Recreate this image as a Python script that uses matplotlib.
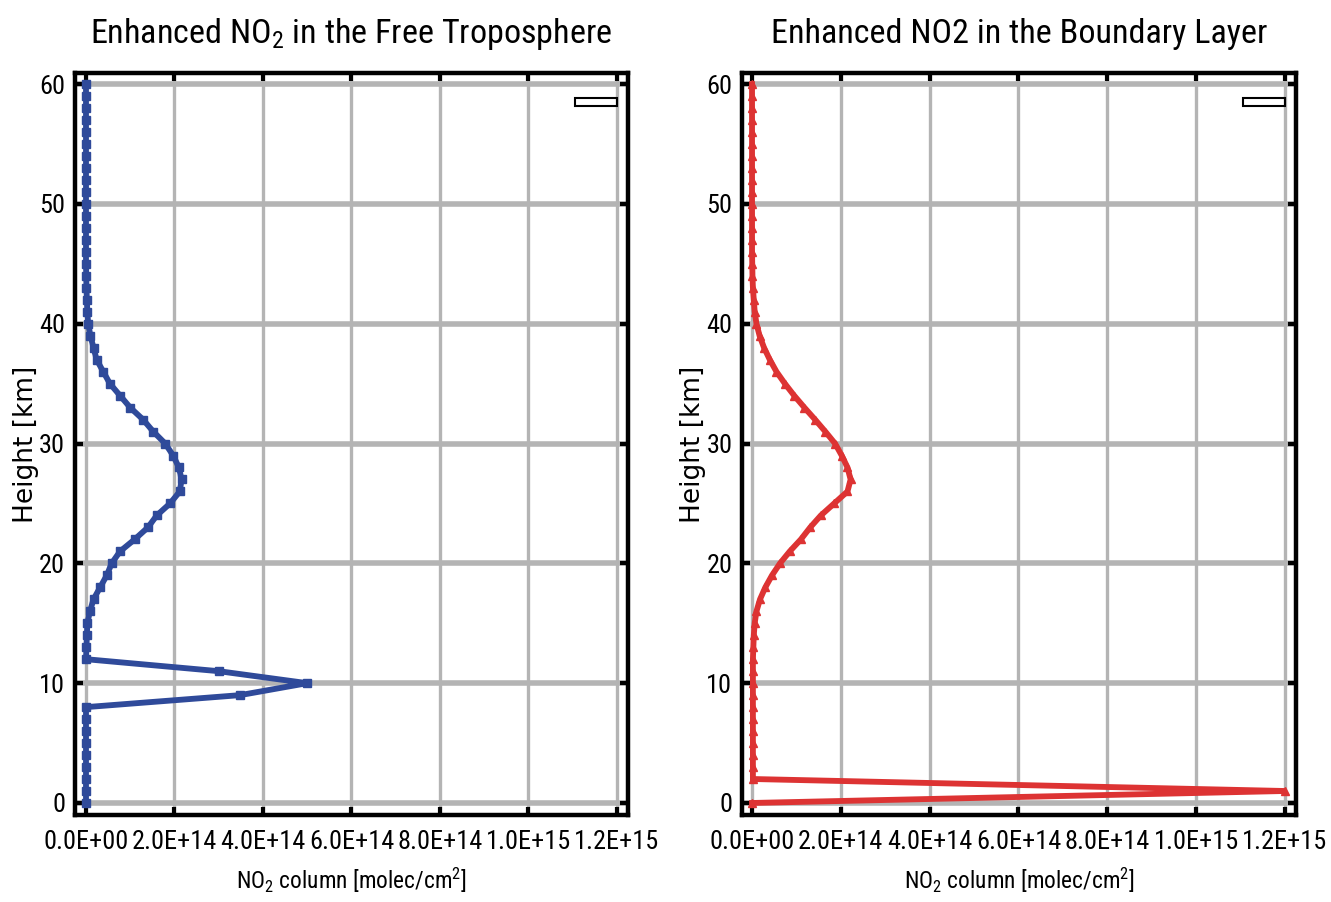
import matplotlib.pyplot as plt
import matplotlib.font_manager as fm
from matplotlib.patches import Rectangle
from matplotlib.ticker import FuncFormatter
from matplotlib.textpath import TextPath
import numpy as np

# height grid [km], 0..60 every km
height = list(range(0, 61))

# Free troposphere case, values in 1e14 molec/cm2
ft_no2 = [0, 0, 0, 0, 0, 0, 0, 0, 0.0, 3.48, 5.0, 3.0, 0.0,
          0.01, 0.02, 0.03, 0.09, 0.17, 0.32, 0.47, 0.58, 0.77, 1.1, 1.4, 1.6,
          1.9, 2.12, 2.16, 2.1, 1.97, 1.79, 1.52, 1.29, 1.0, 0.77, 0.54, 0.39,
          0.24, 0.17, 0.1, 0.05, 0.03, 0.02, 0.01, 0.005, 0,
          0, 0, 0, 0, 0, 0, 0, 0, 0, 0, 0, 0, 0, 0, 0]

# Boundary layer case
bl_no2 = [0, 12.0, 0.02, 0.02, 0.02, 0.02, 0.02, 0.02, 0.02, 0.02, 0.02, 0.02, 0.02,
          0.03, 0.04, 0.06, 0.1, 0.18, 0.3, 0.45, 0.63, 0.85, 1.1, 1.31, 1.55,
          1.85, 2.15, 2.22, 2.15, 2.02, 1.87, 1.65, 1.42, 1.18, 0.95, 0.74, 0.55,
          0.4, 0.27, 0.17, 0.1, 0.06, 0.04, 0.02, 0.01, 0.005,
          0, 0, 0, 0, 0, 0, 0, 0, 0, 0, 0, 0, 0, 0, 0]

xticks = [0, 2e14, 4e14, 6e14, 8e14, 1e15, 1.2e15]
yticks = [0, 10, 20, 30, 40, 50, 60]

# look for a condensed / narrow sans face, like the original Helvetica Condensed
family, stretch = 'Liberation Sans', 'normal'
wanted = ['liberationsansnarrow-regular', 'robotocondensed-regular',
          'notosans-condensed.', 'notosans-condensed-regular', 'dejavusanscondensed.',
          'opensans_condensed-regular', 'opensans-condensed']
found = None
for key in wanted:
    for f in fm.fontManager.ttflist:
        base = f.fname.split('/')[-1].lower()
        if base.startswith(key) or key in base:
            found = f
            break
    if found:
        break
if found is not None:
    family, stretch = found.name, found.stretch
    if not isinstance(stretch, str):
        stretch = 'condensed'

plt.rcParams['font.family'] = [family, 'DejaVu Sans']
plt.rcParams['font.stretch'] = stretch
plt.rcParams['mathtext.fontset'] = 'custom'
plt.rcParams['mathtext.rm'] = '%s:stretch=%s' % (family, stretch)
plt.rcParams['mathtext.it'] = '%s:stretch=%s' % (family, stretch)
plt.rcParams['mathtext.default'] = 'rm'

fp = fm.FontProperties(family=family, stretch=stretch)


def fit(text, width_px, cap):
    w = TextPath((0, 0), text, size=1, prop=fp).get_extents().width
    return min(cap, width_px * 72.0 / (100.0 * w))


tick_fs = fit('0.0E+00', 82, 23)
title_fs = fit('Enhanced NO2 in the Free Troposphere', 522, 30)
xlab_fs = fit('NO2 column [molec/cm2]', 232, 23)


def sci(v, pos):
    if v == 0:
        return '0.0E+00'
    e = int(np.floor(np.log10(abs(v)) + 1e-9))
    return '%.1fE+%02d' % (v / 10 ** e, e)


fig = plt.figure(figsize=(13.31, 9.02), dpi=100)
ax1 = fig.add_axes([0.0563, 0.0965, 0.4155, 0.8225])
ax2 = fig.add_axes([0.5575, 0.0965, 0.4162, 0.8225])

panels = [
    (ax1, ft_no2, '#2f4a9a', 's', 6, 'Enhanced NO$_2$ in the Free Troposphere', (-0.25e14, 12.25e14)),
    (ax2, bl_no2, '#dd3333', '^', 5.5, 'Enhanced NO2 in the Boundary Layer', (-0.225e14, 12.25e14)),
]

for ax, vals, col, mk, ms, title, xl in panels:
    x = np.array(vals) * 1e14
    ax.plot(x, height, color=col, lw=4.2, marker=mk, ms=ms, zorder=3,
            solid_joinstyle='miter')
    ax.set_xlim(*xl)
    ax.set_ylim(-1.0, 60.92)
    ax.set_xticks(xticks)
    ax.set_yticks(yticks)
    ax.xaxis.set_major_formatter(FuncFormatter(sci))
    ax.xaxis.grid(True, color='#b4b4b4', lw=2.4, zorder=0)
    ax.yaxis.grid(True, color='#b4b4b4', lw=4.0, zorder=0)
    ax.set_axisbelow(True)
    for s in ax.spines.values():
        s.set_linewidth(3.2)
        s.set_color('black')
    ax.tick_params(direction='in', length=6, width=3, colors='black',
                   labelsize=tick_fs, top=True, right=True)
    ax.tick_params(axis='x', pad=11)
    ax.tick_params(axis='y', pad=7)
    ax.set_title(title, fontsize=title_fs, pad=22)
    ax.set_xlabel('NO$_2$ column [molec/cm$^2$]', fontsize=xlab_fs, labelpad=8)
    ax.set_ylabel('Height [km]', fontsize=19, family='DejaVu Sans',
                  stretch='normal', labelpad=0)
    ax.add_patch(Rectangle((0.905, 0.955), 0.075, 0.012, transform=ax.transAxes,
                           fill=False, ec='black', lw=1.5, zorder=4))

fig.savefig('out.png', dpi=100)
